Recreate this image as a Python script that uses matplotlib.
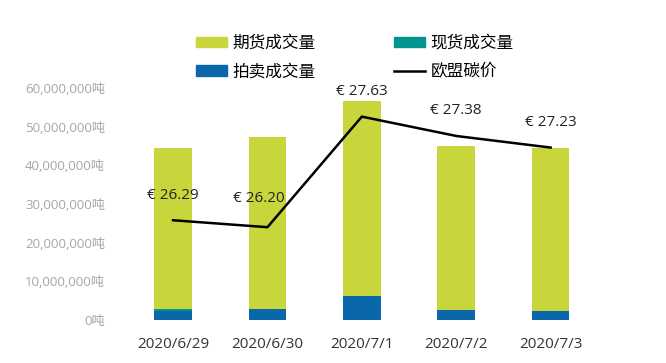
import numpy as np
import matplotlib
matplotlib.use("Agg")
import matplotlib.pyplot as plt
from matplotlib.patches import Patch
from matplotlib.lines import Line2D
from matplotlib.ticker import FuncFormatter

plt.rcParams['font.family'] = ['Open Sans', 'Noto Sans CJK SC', 'DejaVu Sans']

# data
dates = ['2020/6/29', '2020/6/30', '2020/7/1', '2020/7/2', '2020/7/3']
auction = [2400000, 2800000, 6200000, 2600000, 2300000]    # 拍卖成交量
spot = [500000, 150000, 100000, 100000, 100000]           # 现货成交量
futures = [41500000, 44350000, 50400000, 42300000, 42100000]  # 期货成交量
price = [26.29, 26.20, 27.63, 27.38, 27.23]               # 欧盟碳价

c_fut = '#C9D63B'
c_spot = '#00958F'
c_auc = '#0A68AA'

fig = plt.figure(figsize=(6.66, 3.63), dpi=100)
ax = fig.add_axes([0.189, 0.1185, 0.7086, 0.639])
x = np.arange(len(dates))
w = 0.4

ax.bar(x, auction, w, color=c_auc, zorder=2)
b2 = np.array(auction)
ax.bar(x, spot, w, bottom=b2, color=c_spot, zorder=2)
b3 = b2 + np.array(spot)
ax.bar(x, futures, w, bottom=b3, color=c_fut, zorder=2)

ax.set_xlim(-0.5, len(dates) - 0.5)
ax.set_ylim(0, 60000000)
ax.set_yticks(np.arange(0, 60000001, 10000000))
ax.yaxis.set_major_formatter(FuncFormatter(lambda v, p: '{:,.0f}吨'.format(v)))
ax.tick_params(axis='y', length=0, pad=15, labelsize=9.5, labelcolor='#A6A6A6')
ax.set_xticks(x)
ax.set_xticklabels(dates)
ax.tick_params(axis='x', length=0, pad=12, labelsize=11, labelcolor='#333333')
for s in ax.spines.values():
    s.set_visible(False)

ax2 = ax.twinx()
ax2.plot(x, price, color='black', lw=1.8, zorder=3)
ax2.set_ylim(25, 28)
ax2.set_yticks([])
for s in ax2.spines.values():
    s.set_visible(False)
for i, p in enumerate(price):
    dx, dy = 0, 18
    if i == 1:
        # this label sits a bit higher and left, off the line
        dx, dy = -6, 21
    ax2.annotate('€ {:.2f}'.format(p), (x[i], p), xytext=(dx, dy), textcoords='offset points',
                 ha='center', va='center', fontsize=11, color='#222222')

handles = [Patch(color=c_fut), Patch(color=c_auc), Patch(color=c_spot),
           Line2D([0], [0], color='black', lw=1.8)]
labels = ['期货成交量', '拍卖成交量', '现货成交量', '欧盟碳价']
fig.legend(handles, labels, ncol=2, loc='upper left', bbox_to_anchor=(196 / 666, 1 - 36 / 363),
           frameon=False, fontsize=12, borderpad=0, borderaxespad=0, handlelength=1.85,
           handleheight=0.6, handletextpad=0.35, columnspacing=4.7, labelspacing=0.75)

fig.savefig('out.png', dpi=100)
